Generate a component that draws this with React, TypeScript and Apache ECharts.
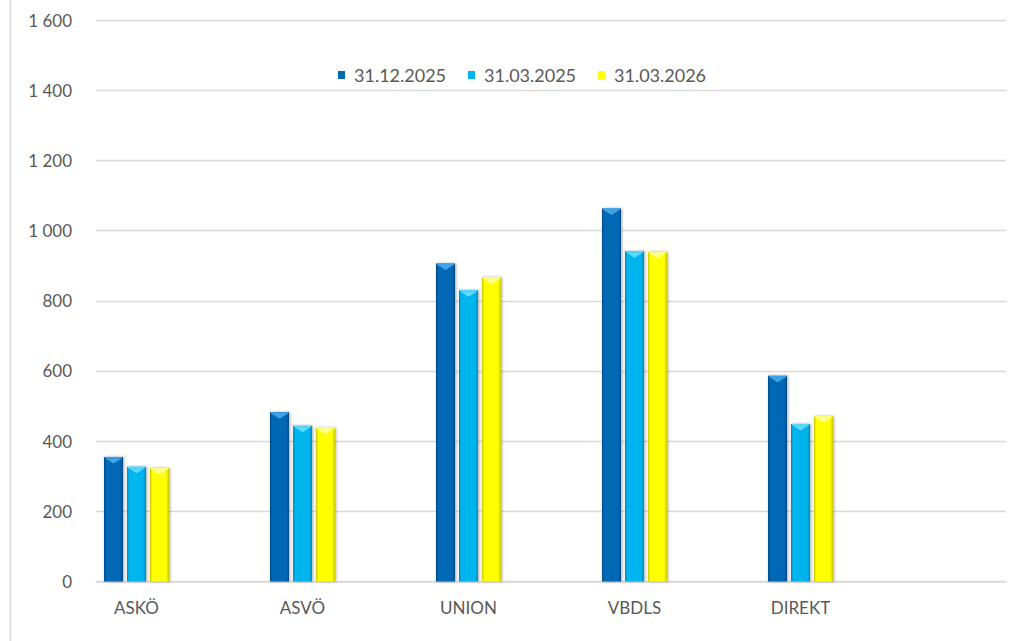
import React, { useEffect, useRef } from "react";
import * as echarts from "echarts";

const categories = ["ASKÖ", "ASVÖ", "UNION", "VBDLS", "DIREKT"];
const seriesNames = ["31.12.2025", "31.03.2025", "31.03.2026"];
const values2025Dec = [355, 482, 906, 1063, 586];
const values2025Mar = [327, 444, 830, 941, 449];
const values2026Mar = [323, 438, 866, 939, 471];
const yTicks = [0, 200, 400, 600, 800, 1000, 1200, 1400, 1600];

const allValues = [values2025Dec, values2025Mar, values2026Mar];
const baseColors = ["#0068B5", "#00B4EE", "#FFFF00"];
const edgeColors = ["#004A85", "#0089BA", "#C8C800"];
const capColors = ["#3FA3EA", "#5ED9FF", "#FFFF8C"];
const offsets = [-23, 0, 23];
const BAR_W = 19;

function fmt(v: number): string {
  if (v >= 1000) {
    return `${Math.floor(v / 1000)} ${String(v % 1000).padStart(3, "0")}`;
  }
  return String(v);
}

export default function App() {
  const ref = useRef<HTMLDivElement>(null);
  useEffect(() => {
    if (!ref.current) return;
    const chart = echarts.init(ref.current, undefined, { renderer: "svg" });
    const font = "Lato, 'Open Sans', sans-serif";
    const series = allValues.map((vals, k) => ({
      type: "custom",
      name: seriesNames[k],
      itemStyle: { color: baseColors[k] },
      encode: { x: 0, y: 1 },
      data: vals.map((v, i) => [i, v]),
      renderItem: (params: any, api: any) => {
        const i = api.value(0);
        const v = api.value(1);
        const top = api.coord([i, v]);
        const base = api.coord([i, 0]);
        const x = top[0] + offsets[k] - BAR_W / 2;
        const y = top[1];
        const h = base[1] - top[1];
        return {
          type: "group",
          children: [
            {
              type: "rect",
              shape: { x, y, width: BAR_W, height: h },
              style: {
                fill: new echarts.graphic.LinearGradient(0, 0, 1, 0, [
                  { offset: 0, color: edgeColors[k] },
                  { offset: 0.12, color: baseColors[k] },
                  { offset: 0.85, color: baseColors[k] },
                  { offset: 1, color: edgeColors[k] },
                ]),
                shadowBlur: 3,
                shadowColor: "rgba(0,0,0,0.35)",
                shadowOffsetX: 1,
                shadowOffsetY: 0,
              },
            },
            {
              type: "rect",
              shape: { x: x + 1, y, width: BAR_W - 2, height: 1.5 },
              style: { fill: capColors[k] },
            },
            {
              type: "polygon",
              shape: {
                points: [
                  [x + 1.5, y + 1.5],
                  [x + BAR_W - 1.5, y + 1.5],
                  [x + BAR_W / 2, y + 6.5],
                ],
              },
              style: { fill: capColors[k] },
            },
          ],
        };
      },
    }));

    chart.setOption({
      animation: false,
      backgroundColor: "#ffffff",
      textStyle: { fontFamily: font },
      legend: {
        data: seriesNames,
        left: 333,
        top: 61,
        icon: "rect",
        itemWidth: 7,
        itemHeight: 8,
        itemGap: 22,
        textStyle: {
          color: "#595959",
          fontSize: 18,
          fontFamily: font,
          padding: [0, 0, 0, 4],
        },
      },
      grid: { left: 96, right: 17, top: 20, bottom: 59.5 },
      xAxis: {
        type: "value",
        min: -0.244,
        max: 5.238,
        splitLine: { show: false },
        axisTick: { show: false },
        axisLine: { show: true, lineStyle: { color: "#d9d9d9", width: 1.5 } },
        axisLabel: {
          customValues: [0, 1, 2, 3, 4],
          formatter: (v: number) => categories[Math.round(v)] ?? "",
          color: "#595959",
          fontSize: 17,
          fontFamily: font,
          margin: 17,
        },
      },
      yAxis: {
        type: "value",
        min: yTicks[0],
        max: yTicks[yTicks.length - 1],
        interval: 200,
        axisLine: { show: false },
        axisTick: { show: false },
        splitLine: { lineStyle: { color: "#d9d9d9", width: 1.3 } },
        axisLabel: {
          formatter: (v: number) => fmt(v),
          color: "#595959",
          fontSize: 17,
          fontFamily: font,
          margin: 24,
        },
      },
      graphic: [
        {
          type: "line",
          shape: { x1: 10.5, y1: 0, x2: 10.5, y2: 641 },
          style: { stroke: "#d9d9d9", lineWidth: 1.5 },
        },
      ],
      series,
    });
    return () => chart.dispose();
  }, []);
  return (
    <div
      ref={ref}
      style={{ position: "absolute", left: 0, top: 0, width: 1023, height: 641 }}
    />
  );
}
